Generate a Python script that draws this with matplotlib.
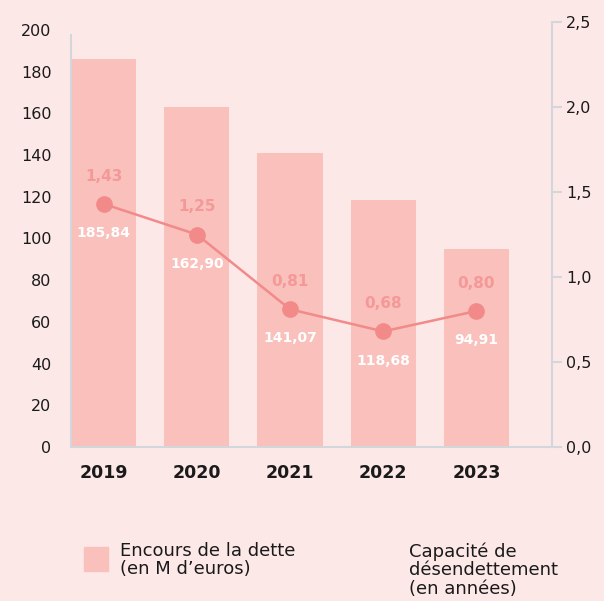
import matplotlib.pyplot as plt

annees = ["2019", "2020", "2021", "2022", "2023"]
encours = [185.84, 162.90, 141.07, 118.68, 94.91]
capacite = [1.43, 1.25, 0.81, 0.68, 0.80]
ticks_gauche = [0, 20, 40, 60, 80, 100, 120, 140, 160, 180, 200]
ticks_droite = [0.0, 0.5, 1.0, 1.5, 2.0, 2.5]

fond = "#fde8e8"
barre = "#f9c0bc"
ligne = "#f28a8a"
gris = "#d3d6da"

plt.rcParams['font.family'] = ['DejaVu Sans']
plt.rcParams['text.color'] = "#1a1a1a"

def virgule(v, n):
    return f"{v:.{n}f}".replace(".", ",")

fig = plt.figure(figsize=(6.04, 6.01), dpi=100, facecolor=fond)
ax = fig.add_axes([71 / 604, 154 / 601, 481 / 604, 425 / 601])
ax.set_facecolor(fond)
ax2 = ax.twinx()

x = list(range(len(annees)))
ax.bar(x, encours, width=0.70, color=barre, zorder=2)
ax.set_xlim(-0.35, 4.81)
ax.set_ylim(0, 203.8)
ax.set_yticks(ticks_gauche)
ax.set_yticklabels([str(t) for t in ticks_gauche], fontsize=11.5, color="#1a1a1a")
ax.tick_params(axis="y", length=0, pad=14)
ax.set_xticks(x)
ax.set_xticklabels(annees, fontsize=12.5, fontweight="bold", color="#1a1a1a")
ax.tick_params(axis="x", length=0, pad=12)
for s in ["top", "right"]:
    ax.spines[s].set_visible(False)
ax.spines["left"].set_color(gris)
ax.spines["left"].set_bounds(0, 197.5)
ax.spines["bottom"].set_color(gris)
ax.spines["left"].set_linewidth(1.5)
ax.spines["bottom"].set_linewidth(1.5)

ax2.plot(x, capacite, color=ligne, lw=1.8, marker="o", ms=11, zorder=3)
ax2.set_ylim(0, 2.5)
ax2.set_yticks(ticks_droite)
ax2.set_yticklabels([virgule(t, 1) for t in ticks_droite], fontsize=11.5, color="#1a1a1a")
ax2.tick_params(axis="y", length=7, width=1.5, color=gris, pad=3)
for s in ["top", "left", "bottom"]:
    ax2.spines[s].set_visible(False)
ax2.spines["right"].set_color(gris)
ax2.spines["right"].set_linewidth(1.5)

for xi, c, e in zip(x, capacite, encours):
    ax2.annotate(virgule(c, 2), (xi, c), xytext=(0, 20), textcoords="offset points",
                 ha="center", va="center", fontsize=11, fontweight="bold", color="#f59898")
    ax2.annotate(virgule(e, 2), (xi, c), xytext=(0, -21), textcoords="offset points",
                 ha="center", va="center", fontsize=10, fontweight="bold", color="white")

# légende
fig.patches.append(plt.Rectangle((84 / 604, 1 - 571 / 601), 24 / 604, 24 / 601,
                                 transform=fig.transFigure, color=barre))
fig.text(120 / 604, 1 - 560 / 601, "Encours de la dette\n(en M d\u2019euros)",
         fontsize=13, va="center", ha="left", linespacing=1.05)
fig.text(409 / 604, 1 - 570 / 601, "Capacité de\ndésendettement\n(en années)",
         fontsize=13, va="center", ha="left", linespacing=1.05)

fig.savefig("out.png", dpi=100, facecolor=fond)
